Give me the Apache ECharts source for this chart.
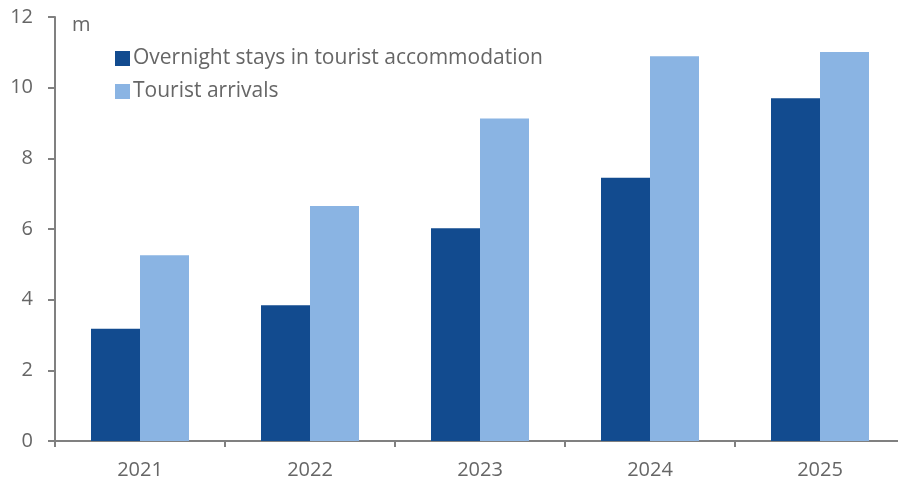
<!DOCTYPE html>
<html>
<head>
<meta charset="utf-8">
<script src="https://cdn.jsdelivr.net/npm/echarts@6/dist/echarts.min.js"></script>
<style>
  html, body { margin: 0; padding: 0; background: #fff; }
  #chart { width: 898px; height: 484px; }
</style>
</head>
<body>
<div id="chart"></div>
<script>
// Tourism figures, millions
const years = ['2021', '2022', '2023', '2024', '2025'];
const overnightStays = [3.18, 3.84, 6.02, 7.45, 9.70];
const touristArrivals = [5.26, 6.65, 9.13, 10.89, 11.01];
const yTicks = [0, 2, 4, 6, 8, 10, 12];

const FONT = '"Open Sans", "Noto Sans", sans-serif';
const AXIS_GREY = '#808080';
const TEXT_GREY = '#666666';

const chart = echarts.init(document.getElementById('chart'), null, { renderer: 'canvas' });

chart.setOption({
  animation: false,
  backgroundColor: '#ffffff',
  textStyle: { fontFamily: FONT },
  // plot area runs a little past the right edge of the canvas
  grid: { left: 55, width: 850, top: 17, bottom: 43, containLabel: false, outerBoundsMode: 'none' },
  legend: {
    orient: 'vertical',
    left: 110,
    top: 43,
    itemWidth: 15,
    itemHeight: 15,
    itemGap: 12,
    icon: 'rect',
    textStyle: { fontFamily: FONT, fontSize: 21, color: TEXT_GREY, padding: [0, 0, 0, -2] },
    data: ['Overnight stays in tourist accommodation', 'Tourist arrivals']
  },
  graphic: [{
    type: 'text',
    left: 72,
    top: 15,
    style: { text: 'm', font: '20px ' + FONT, fill: TEXT_GREY }
  }],
  xAxis: {
    type: 'category',
    data: years,
    boundaryGap: true,
    axisLine: { lineStyle: { color: AXIS_GREY, width: 2 } },
    axisTick: { show: true, length: 6, alignWithLabel: false, lineStyle: { color: AXIS_GREY, width: 2 } },
    axisLabel: { fontFamily: FONT, fontSize: 20, color: TEXT_GREY, margin: 19 }
  },
  yAxis: {
    type: 'value',
    min: yTicks[0],
    max: yTicks[yTicks.length - 1],
    interval: 2,
    axisLine: { show: true, lineStyle: { color: AXIS_GREY, width: 2 } },
    axisTick: { show: true, length: 7, lineStyle: { color: AXIS_GREY, width: 2 } },
    splitLine: { show: false },
    axisLabel: { fontFamily: FONT, fontSize: 20, color: TEXT_GREY, margin: 22 }
  },
  series: [
    {
      name: 'Overnight stays in tourist accommodation',
      type: 'bar',
      data: overnightStays,
      barWidth: 49,
      barGap: '0%',
      itemStyle: { color: '#124B8F' }
    },
    {
      name: 'Tourist arrivals',
      type: 'bar',
      data: touristArrivals,
      barWidth: 49,
      barGap: '0%',
      itemStyle: { color: '#8AB4E3' }
    }
  ]
});
</script>
</body>
</html>
